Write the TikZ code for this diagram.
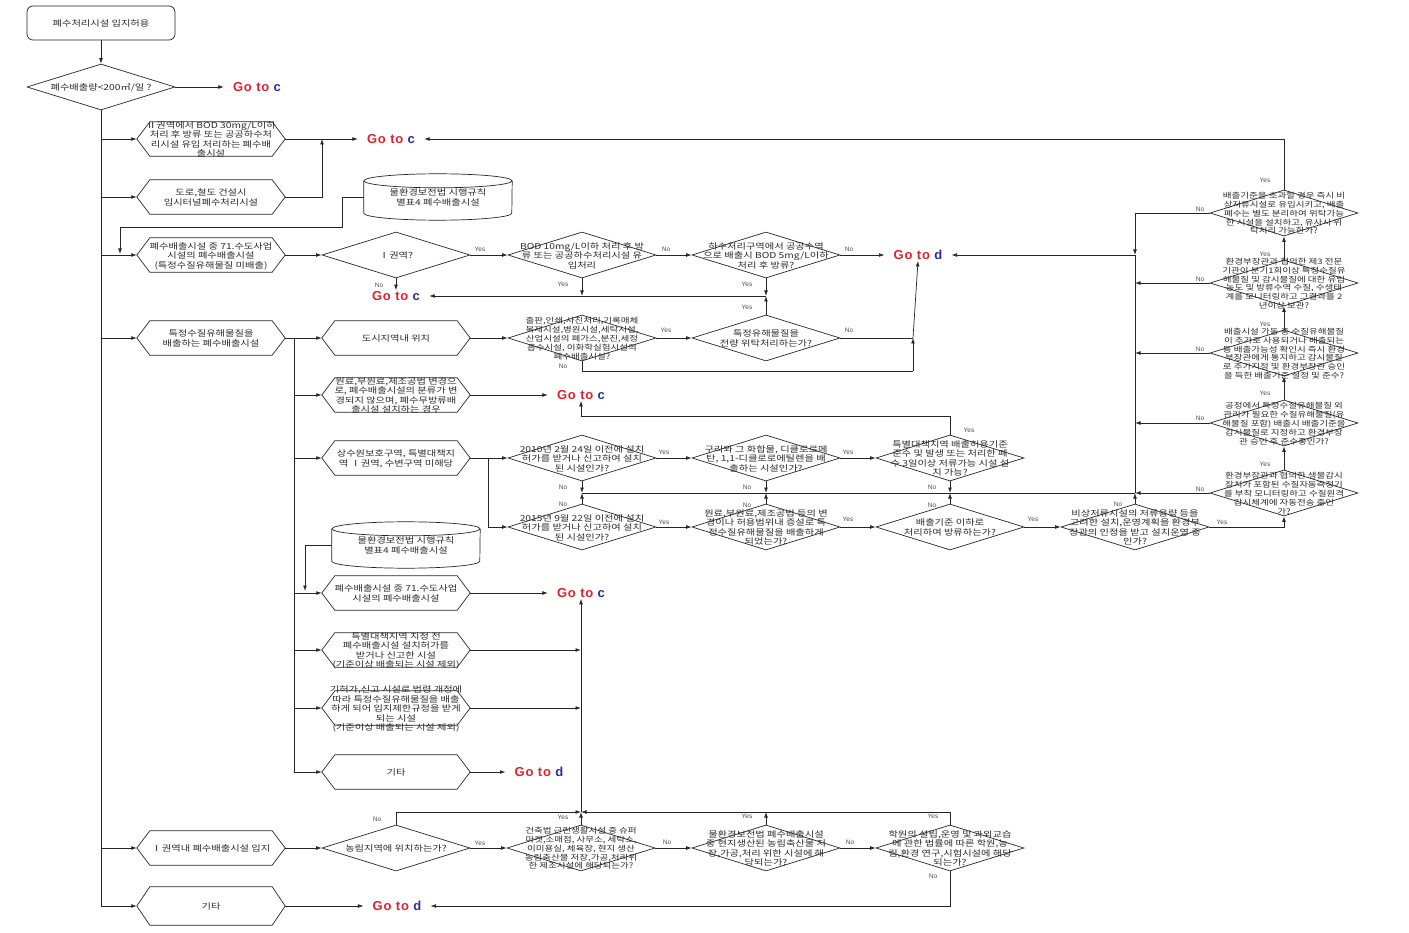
\documentclass[tikz,border=0pt]{standalone}
\usepackage{fontspec}
\usetikzlibrary{arrows.meta,shapes.geometric,calc}
\newfontfamily\krfont[FakeStretch=1.25]{Noto Sans CJK KR}
\newfontfamily\arfont{Liberation Sans}
\newfontfamily\gofont[LetterSpace=6]{Liberation Sans}
\definecolor{gored}{HTML}{E3202B}
\definecolor{goblue}{HTML}{2A2AA8}
\definecolor{txtgray}{HTML}{2A2A2A}
\newcommand\kfont{\krfont\fontsize{8.2}{9}\selectfont}
\newcommand\ksm{\krfont\fontsize{7.6}{8.3}\selectfont}
\newcommand\boxtext[1]{\makebox[0pt]{\raisebox{0pt}[0pt][0pt]{\raisebox{-3.5pt}{\begin{tabular}{@{}c@{}}#1\end{tabular}}}}}
\newcommand\gotext[1]{\textcolor{gored}{Go to} \textcolor{goblue}{#1}}
\begin{document}
\begin{tikzpicture}[x=1pt,y=-1pt,
  line/.style={draw=black!85, line width=0.7pt},
  arr/.style={line, -{Latex[length=5.5pt,width=3.8pt]}},
  hexbox/.style={rectangle, minimum width=148pt, minimum height=34pt, inner sep=0pt, font=\kfont, text=txtgray},
  startbox/.style={rectangle, rounded corners=6pt, line, minimum width=148pt, minimum height=34pt, inner sep=0pt, font=\kfont, text=txtgray},
  cylbox/.style={rectangle, minimum width=148pt, minimum height=46pt, inner sep=0pt, font=\kfont, text=txtgray},
  dia/.style={diamond, line, minimum width=148pt, minimum height=46pt, inner sep=0pt, font=\kfont, text=txtgray},
  diasm/.style={dia, font=\ksm},
  goto/.style={font=\gofont\bfseries\fontsize{13}{15}\selectfont, inner xsep=9pt, inner ysep=1pt},
  yn/.style={font=\arfont\fontsize{6.5}{7}\selectfont, text=black!70, inner sep=0pt}
]
\useasboundingbox (0,0) rectangle (1409,933);

% ---------- nodes ----------
\node[startbox] (start) at (101,23) {\boxtext{폐수처리시설 입지허용}};
\node[dia] (d1) at (101,87) {\boxtext{폐수배출량<200㎥/일 ?}};
\node[goto] (gc1) at (257,87) {\gotext{c}};

\node[hexbox] (h1) at (211,139) {\boxtext{Ⅱ권역에서 BOD 30mg/L이하\\처리 후 방류 또는 공공하수처\\리시설 유입 처리하는 폐수배\\출시설}};
\node[goto] (gc2) at (391,139) {\gotext{c}};
\node[hexbox] (h2) at (211,197) {\boxtext{도로,철도 건설시\\임시터널폐수처리시설}};
\node[cylbox] (db1) at (438,197) {\boxtext{\raisebox{-4pt}{\begin{tabular}{@{}c@{}}물환경보전법 시행규칙\\별표4 폐수배출시설\end{tabular}}}};

\node[hexbox] (h3) at (211,255) {\boxtext{폐수배출시설 중 71.수도사업\\시설의 폐수배출시설\\(특정수질유해물질 미배출)}};
\node[dia] (d2) at (396,255) {\boxtext{Ⅰ권역?}};
\node[dia] (d3) at (582,255) {\boxtext{BOD 10mg/L이하 처리 후 방\\류 또는 공공하수처리시설 유\\입처리}};
\node[dia] (d4) at (766,255) {\boxtext{하수처리구역에서 공공수역\\으로 배출시 BOD 5mg/L이하\\처리 후 방류?}};
\node[goto] (gd1) at (918,255) {\gotext{d}};
\node[goto] (gc3) at (396,296) {\gotext{c}};

\node[hexbox] (h4) at (211,338) {\boxtext{특정수질유해물질을\\배출하는 폐수배출시설}};
\node[hexbox] (h5) at (396,338) {\boxtext{도시지역내 위치}};
\node[diasm] (d6) at (582,338) {\boxtext{출판,인쇄,사진처리,기록매체\\복제시설,병원시설,세탁시설,\\산업시설의 폐가스,분진,세정\\흡수시설, 이화학실험시설의\\폐수배출시설?}};
\node[dia] (d5) at (766,338) {\boxtext{특정유해물질을\\전량 위탁처리하는가?}};

\node[hexbox] (h6) at (396,395) {\boxtext{원료,부원료,제조공법 변경으\\로, 폐수배출시설의 분류가 변\\경되지 않으며, 폐수무방류배\\출시설 설치하는 경우}};
\node[goto] (gc4) at (581,395) {\gotext{c}};

\node[hexbox] (h7) at (396,458) {\boxtext{상수원보호구역, 특별대책지\\역 Ⅰ권역, 수변구역 미해당}};
\node[dia] (d7) at (582,458) {\boxtext{2010년 2월 24일 이전에 설치\\허가를 받거나 신고하여 설치\\된 시설인가?}};
\node[dia] (d8) at (766,458) {\boxtext{구리와 그 화합물, 디클로로메\\탄, 1,1-디클로로에틸렌을 배\\출하는 시설인가?}};
\node[dia] (d9) at (950,458) {\boxtext{특별대책지역 배출허용기준\\준수 및 발생 또는 처리한 폐\\수 3일이상 저류가능 시설 설\\치 가능?}};

\node[dia] (d10) at (582,527) {\boxtext{2015년 9월 22일 이전에 설치\\허가를 받거나 신고하여 설치\\된 시설인가?}};
\node[dia] (d11) at (766,527) {\boxtext{원료,부원료,제조공법 등의 변\\경이나 허용범위내 증설로 특\\정수질유해물질을 배출하게\\되었는가?}};
\node[dia] (d12) at (950,527) {\boxtext{배출기준 이하로\\처리하여 방류하는가?}};
\node[dia] (d13) at (1135,527) {\boxtext{비상저류시설의 저류용량 등을\\고려한 설치,운영계획을 환경부\\장관의 인정을 받고 설치운영 중\\인가?}};

\node[diasm] (r1) at (1284,213) {\boxtext{배출기준을 초과할 경우 즉시 비\\상저류시설로 유입시키고, 배출\\폐수는 별도 분리하여 위탁가능\\한 시설을 설치하고, 유사시 위\\탁처리 가능한가?}};
\node[diasm] (r2) at (1284,283) {\boxtext{환경부장관과 협의한 제3 전문\\기관이 분기1회이상 특정수질유\\해물질 및 감시물질에 대한 유입\\농도 및 방류수역 수질, 수생태\\계를 모니터링하고 그결과를 2\\년이상 보관?}};
\node[diasm] (r3) at (1284,353) {\boxtext{배출시설 가동 중 수질유해물질\\이 추가로 사용되거나 배출되는\\등 배출가능성 확인시 즉시 환경\\부장관에게 통지하고 감시물질\\로 추가지정 및 환경부장관 승인\\을 득한 배출기준 설정 및 준수?}};
\node[diasm] (r4) at (1284,423) {\boxtext{공정에서 특정수질유해물질 외\\관리가 필요한 수질유해물질(유\\해물질 포함) 배출시 배출기준을\\감시물질로 지정하고 환경부장\\관 승인 후 준수중인가?}};
\node[diasm] (r5) at (1284,493) {\boxtext{환경부장관과 협의한 생물감시\\장치가 포함된 수질자동측정기\\를 부착 모니터링하고 수질원격\\감시체계에 자동전송 중인\\가?}};

\node[cylbox] (db2) at (406,545) {\boxtext{\raisebox{-4pt}{\begin{tabular}{@{}c@{}}물환경보전법 시행규칙\\별표4 폐수배출시설\end{tabular}}}};
\node[hexbox] (h8) at (396,593) {\boxtext{폐수배출시설 중 71.수도사업\\시설의 폐수배출시설}};
\node[goto] (gc5) at (581,593) {\gotext{c}};
\node[hexbox] (h9) at (396,650) {\boxtext{특별대책지역 지정 전\\폐수배출시설 설치허가를\\받거나 신고한 시설\\(기준이상 배출되는 시설 제외)}};
\node[hexbox] (h10) at (396,708) {\boxtext{기허가,신고 시설로 법령 개정에\\따라 특정수질유해물질을 배출\\하게 되어 입지제한규정을 받게\\되는 시설\\(기준이상 배출되는 시설 제외)}};
\node[hexbox] (h11) at (396,772) {\boxtext{기타}};
\node[goto] (gd2) at (539,772) {\gotext{d}};

\node[hexbox] (h12) at (211,848) {\boxtext{Ⅰ권역내 폐수배출시설 입지}};
\node[dia] (d14) at (396,848) {\boxtext{농림지역에 위치하는가?}};
\node[diasm] (d15) at (581,848) {\boxtext{건축법 근린생활시설 중 슈퍼\\마켓,소매점, 사무소, 세탁소,\\이미용실, 체육장, 현지 생산\\농림축산물 저장,가공,처리위\\한 제조시설에 해당되는가?}};
\node[dia] (d16) at (766,848) {\boxtext{물환경보전법 폐수배출시설\\중 현지생산된 농림축산물 저\\장,가공,처리 위한 시설에 해\\당되는가?}};
\node[dia] (d17) at (950,848) {\boxtext{학원의 설립,운영 및 과외교습\\에 관한 법률에 따른 학원,농\\림,환경 연구,시험시설에 해당\\되는가?}};
\node[hexbox, minimum height=38pt] (h13) at (211,906) {\boxtext{기타}};
\node[goto] (gd3) at (397,906) {\gotext{d}};

% ---------- hexagon outlines ----------
\foreach \n in {h1,h2,h3,h4,h5,h6,h7,h8,h9,h10,h11,h12,h13}
  \draw[line] (\n.west) -- ([xshift=13pt]\n.north west) -- ([xshift=-13pt]\n.north east)
     -- (\n.east) -- ([xshift=-13pt]\n.south east) -- ([xshift=13pt]\n.south west) -- cycle;
% ---------- cylinders ----------
\foreach \n in {db1,db2}{
  \draw[line] ([yshift=-7pt]\n.north) ellipse [x radius=74pt, y radius=7pt];
  \draw[line] ([yshift=-7pt]\n.north west) -- ([yshift=7pt]\n.south west)
     arc[start angle=180, end angle=360, x radius=74pt, y radius=7pt] -- ([yshift=-7pt]\n.north east);
}

% ---------- junction coordinates ----------
\coordinate (j1) at (322,139);
\coordinate (b1) at (342,227);
\coordinate (j2) at (120,254);
\coordinate (t2) at (294,338);
\coordinate (j3) at (582,296);
\coordinate (j4) at (766,296);
\coordinate (j5) at (913,338);
\coordinate (j6) at (913,371);
\coordinate (j7) at (1135,255);
\coordinate (j8) at (581,416);
\coordinate (t3) at (488,458);
\coordinate (k1) at (582,493);
\coordinate (k2) at (766,493);
\coordinate (k3) at (950,493);
\coordinate (k4) at (1135,493);
\coordinate (j9) at (305,591);
\coordinate (j10) at (581,812);

% ---------- connectors ----------
\draw[arr] (start.south) -- (d1.north);
\draw[arr] (d1.east) -- (gc1.west);
\foreach \n in {h1,h2,h3,h4,h12,h13} \draw[arr] (d1.south) |- (\n.west);
\draw[arr] (h1.east) -- (gc2.west);
\draw[arr] (h2.east) -| (j1);
\draw[arr] (db1.west) -| (b1) -| (j2);
\draw[arr] (h3.east) -- (d2.west);
\draw[arr] (d2.east) -- (d3.west);
\draw[arr] (d2.south) -- (gc3.north);
\draw[arr] (d3.east) -- (d4.west);
\draw[arr] (d4.east) -- (gd1.west);
\draw[arr] (d3.south) -- (j3);
\draw[arr] (d4.south) -- (j4);
\draw[arr] (d5.north) -- (j4);
\draw[arr] (j4) -- (gc3.east);
\draw[arr] (h4.east) -- (h5.west);
\draw[arr] (h5.east) -- (d6.west);
\draw[arr] (d6.east) -- (d5.west);
\draw[line] (d5.east) -- (j5);
\draw[line] (d6.south) |- (j6);
\draw[arr] (j6) -- (j5);
\draw[arr] (j5) -- (gd1.south);
\draw[arr] (j7) -- (gd1.east);
\foreach \n in {h6,h7,h8,h9,h10,h11} \draw[arr] (t2) |- (\n.west);
\draw[line] (h4.east) -- (t2);
\draw[arr] (h6.east) -- (gc4.west);
\draw[arr] (d9.north) |- (j8) -- (gc4.south);
\draw[arr] (h7.east) -- (d7.west);
\draw[arr] (t3) |- (d10.west);
\draw[arr] (d7.east) -- (d8.west);
\draw[arr] (d8.east) -- (d9.west);
\draw[arr] (d10.east) -- (d11.west);
\draw[arr] (d11.east) -- (d12.west);
\draw[arr] (d12.east) -- (d13.west);
\draw[line] (k1) -- (k4);
\draw[arr] (d7.south) -- (k1);
\draw[arr] (d10.north) -- (k1);
\draw[arr] (d8.south) -- (k2);
\draw[arr] (d11.north) -- (k2);
\draw[arr] (d9.south) -- (k3);
\draw[arr] (d12.north) -- (k3);
\draw[arr] (d13.north) -- (k4);
\draw[line] (k4) -- (j7);
\draw[arr] (d13.east) -| (r5.south);
\draw[arr] (r5.north) -- (r4.south);
\draw[arr] (r4.north) -- (r3.south);
\draw[arr] (r3.north) -- (r2.south);
\draw[arr] (r2.north) -- (r1.south);
\draw[arr] (r1.north) |- (gc2.east);
\draw[arr] (r1.west) -| (j7);
\foreach \n in {r2,r3,r4,r5} \draw[arr] (\n.west) -- (\n.west -| j7);
\draw[arr] (db2.west) -| (j9);
\draw[arr] (h8.east) -- (gc5.west);
\draw[arr] (h9.east) -- (h9.east -| j10);
\draw[arr] (h10.east) -- (h10.east -| j10);
\draw[arr] (j10) -- (gc5.south);
\draw[arr] (h11.east) -- (gd2.west);
\draw[arr] (h12.east) -- (d14.west);
\draw[arr] (d14.east) -- (d15.west);
\draw[arr] (d14.north) |- (j10);
\draw[arr] (d15.north) -- (j10);
\draw[arr] (d15.east) -- (d16.west);
\draw[arr] (d16.north) -- (d16.north |- j10);
\draw[arr] (d16.east) -- (d17.west);
\draw[arr] (d17.north) |- (j10);
\draw[arr] (d17.south) |- (gd3.east);
\draw[arr] (h13.east) -- (gd3.west);

% ---------- Yes / No labels ----------
\foreach \x/\y/\t [count=\i] in {
  480/249/Yes, 379/285/No, 666/249/No, 563/284/Yes, 849/249/No, 747/284/Yes,
  747/307/Yes, 849/330/No, 666/330/Yes, 563/366/No, 969/430/Yes,
  664/452/Yes, 563/487/No, 563/504/No, 664/522/Yes, 848/452/Yes, 747/487/No,
  747/505/No, 848/519/Yes, 932/487/No, 932/505/No, 1033/519/Yes, 1118/504/No,
  1222/522/Yes, 1265/180/Yes, 1200/209/No, 1265/254/Yes, 1200/279/No,
  1265/324/Yes, 1200/349/No, 1265/393/Yes, 1200/418/No, 1265/464/Yes,
  1200/489/No, 377/819/No, 480/843/Yes, 563/817/Yes, 667/842/No,
  747/816/Yes, 850/842/No, 933/816/Yes, 933/876/No}
  \node[yn] (lab\i) at (\x,\y) {\t};
\end{tikzpicture}
\end{document}
